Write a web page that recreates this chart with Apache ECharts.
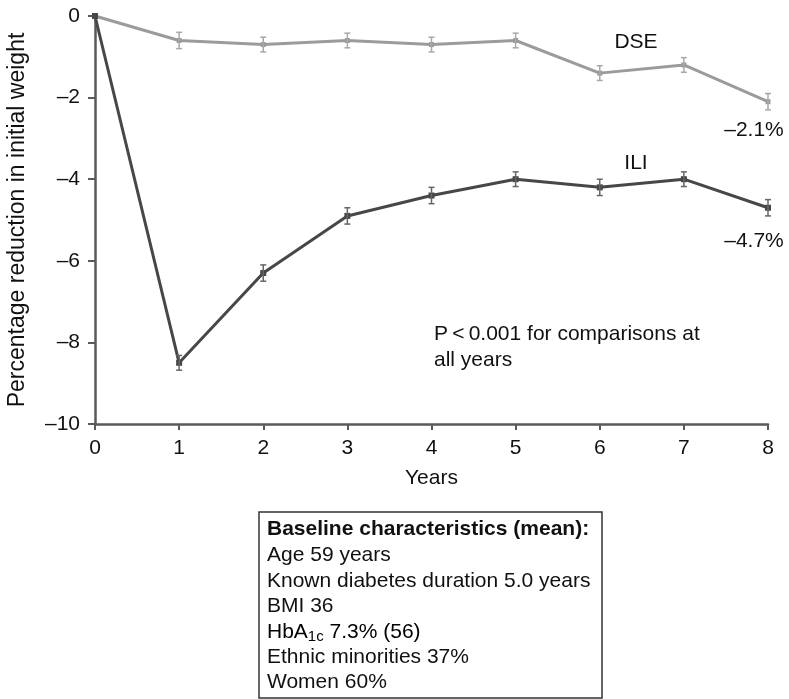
<!DOCTYPE html>
<html>
<head>
<meta charset="utf-8">
<script src="https://cdn.jsdelivr.net/npm/echarts@6/dist/echarts.min.js"></script>
<style>
html,body{margin:0;padding:0;background:#fff;}
#chart{width:789px;height:699px;}
</style>
</head>
<body>
<div id="chart"></div>
<script>
const years = [0, 1, 2, 3, 4, 5, 6, 7, 8];
const dseValues = [0, -0.6, -0.7, -0.6, -0.7, -0.6, -1.4, -1.2, -2.1];
const dseErrors = [0, 0.2, 0.18, 0.18, 0.18, 0.18, 0.18, 0.18, 0.2];
const iliValues = [0, -8.5, -6.3, -4.9, -4.4, -4.0, -4.2, -4.0, -4.7];
const iliErrors = [0, 0.18, 0.2, 0.2, 0.2, 0.18, 0.2, 0.18, 0.2];
const yTicks = [0, -2, -4, -6, -8, -10];
const xTicks = [0, 1, 2, 3, 4, 5, 6, 7, 8];
const seriesNames = ['DSE', 'ILI'];
const endLabels = ['\u20132.1%', '\u20134.7%'];
const boxLines = ['Baseline characteristics (mean):', 'Age 59 years', 'Known diabetes duration 5.0 years', 'BMI 36', 'HbA1c 7.3% (56)', 'Ethnic minorities 37%', 'Women 60%'];

const FONT = '"Liberation Sans", Arial, Helvetica, sans-serif';
const FS = 21;
const DSE_COLOR = '#9b9b9b';
const ILI_COLOR = '#474747';
const AXIS_COLOR = '#5a5a5a';

function pairs(vals) { return years.map((y, i) => [y, vals[i]]); }
function errData(vals, errs) { return years.map((y, i) => [y, vals[i] - errs[i], vals[i] + errs[i]]); }

function errRender(color) {
  return function (params, api) {
    const x = api.value(0), lo = api.value(1), hi = api.value(2);
    if (hi - lo < 1e-9) return null;
    const a = api.coord([x, hi]), b = api.coord([x, lo]);
    const w = 3;
    const st = { stroke: color, lineWidth: 1.5 };
    return {
      type: 'group',
      children: [
        { type: 'line', shape: { x1: a[0], y1: a[1], x2: b[0], y2: b[1] }, style: st },
        { type: 'line', shape: { x1: a[0] - w, y1: a[1], x2: a[0] + w, y2: a[1] }, style: st },
        { type: 'line', shape: { x1: b[0] - w, y1: b[1], x2: b[0] + w, y2: b[1] }, style: st }
      ]
    };
  };
}

const minus = v => (v < 0 ? '\u2013' + Math.abs(v) : String(v));

const chart = echarts.init(document.getElementById('chart'), null, { renderer: 'canvas' });

const txt = (text, x, y, extra) => Object.assign({
  type: 'text', x: x, y: y,
  style: Object.assign({ text: text, font: FS + 'px ' + FONT, fill: '#111', textAlign: 'left', textVerticalAlign: 'middle' }, extra || {})
});

const boxChildren = [
  { type: 'rect', shape: { x: 259, y: 512, width: 343, height: 186 }, style: { fill: '#fff', stroke: '#333', lineWidth: 1.5 } }
];
const lineYs = [529, 555, 581, 606, 632, 657, 682];
boxLines.forEach((t, i) => {
  if (t.indexOf('HbA1c') === 0) {
    boxChildren.push({
      type: 'text', x: 267, y: lineYs[i],
      style: {
        text: '{m|HbA}{s|1c}{m|' + t.slice(5) + '}',
        textVerticalAlign: 'middle', textAlign: 'left',
        rich: {
          m: { fontSize: FS, fontFamily: FONT, color: '#111', lineHeight: 24, verticalAlign: 'middle' },
          s: { fontSize: 15, fontFamily: FONT, color: '#111', lineHeight: 12, verticalAlign: 'bottom' }
        }
      }
    });
  } else {
    boxChildren.push(txt(t, 267, lineYs[i], i === 0 ? { font: 'bold ' + FS + 'px ' + FONT } : {}));
  }
});

const option = {
  backgroundColor: '#fff',
  animation: false,
  grid: { left: 95, right: 21, top: 16, bottom: 275, containLabel: false, outerBoundsMode: 'none' },
  xAxis: {
    type: 'value', min: 0, max: 8, interval: 1,
    name: 'Years', nameLocation: 'middle', nameGap: 44,
    nameTextStyle: { fontSize: FS, fontFamily: FONT, color: '#111' },
    axisLine: { show: true, onZero: false, lineStyle: { color: AXIS_COLOR, width: 2.5 } },
    axisTick: { show: true, length: 6, lineStyle: { color: AXIS_COLOR, width: 2 } },
    axisLabel: { fontSize: FS, fontFamily: FONT, color: '#111', margin: 14, formatter: v => minus(v) },
    splitLine: { show: false }
  },
  yAxis: {
    type: 'value', min: -10, max: 0, interval: 2,
    name: 'Percentage reduction in initial weight', nameLocation: 'middle', nameGap: 66,
    nameTextStyle: { fontSize: 23, fontFamily: FONT, color: '#111' },
    axisLine: { show: true, onZero: false, lineStyle: { color: AXIS_COLOR, width: 2.5 } },
    axisTick: { show: true, length: 7, lineStyle: { color: AXIS_COLOR, width: 2 } },
    axisLabel: { fontSize: FS, fontFamily: FONT, color: '#111', margin: 15, formatter: v => minus(v) },
    splitLine: { show: false }
  },
  series: [
    {
      name: seriesNames[0], type: 'line', data: pairs(dseValues), z: 3,
      symbol: 'rect', symbolSize: 5, showSymbol: true,
      lineStyle: { color: DSE_COLOR, width: 3 }, itemStyle: { color: DSE_COLOR }
    },
    {
      name: seriesNames[1], type: 'line', data: pairs(iliValues), z: 4,
      symbol: 'rect', symbolSize: 6, showSymbol: true,
      lineStyle: { color: ILI_COLOR, width: 3 }, itemStyle: { color: ILI_COLOR }
    },
    { type: 'custom', data: errData(dseValues, dseErrors), renderItem: errRender('#a8a8a8'), z: 5, silent: true },
    { type: 'custom', data: errData(iliValues, iliErrors), renderItem: errRender('#666'), z: 5, silent: true }
  ],
  graphic: [
    txt(seriesNames[0], 636, 42, { textAlign: 'center' }),
    txt(endLabels[0], 754, 130, { textAlign: 'center' }),
    txt(seriesNames[1], 636, 163, { textAlign: 'center' }),
    txt(endLabels[1], 754, 241, { textAlign: 'center' }),
    txt('P\u2009<\u20090.001 for comparisons at', 434, 334),
    txt('all years', 434, 360),
    { type: 'group', children: boxChildren }
  ]
};
chart.setOption(option);
</script>
</body>
</html>
